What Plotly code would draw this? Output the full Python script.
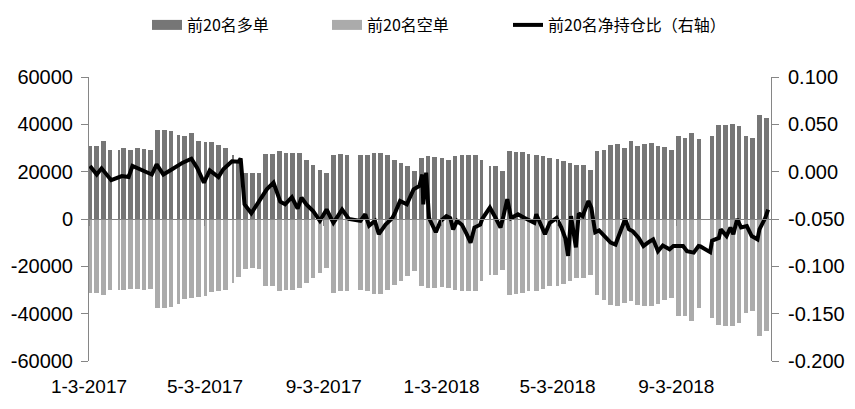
import pandas as pd
import plotly.graph_objects as go

# ---------------- data ----------------
week_start = pd.date_range("2017-01-02", periods=101, freq="7D")

holidays = [
    "2017-01-02", "2017-01-27", "2017-01-30", "2017-01-31", "2017-02-01", "2017-02-02",
    "2017-04-03", "2017-04-04", "2017-05-01", "2017-05-29", "2017-05-30",
    "2017-10-02", "2017-10-03", "2017-10-04", "2017-10-05", "2017-10-06",
    "2018-01-01", "2018-02-15", "2018-02-16", "2018-02-19", "2018-02-20", "2018-02-21",
    "2018-04-05", "2018-04-06", "2018-04-30", "2018-05-01", "2018-06-18", "2018-09-24",
    "2018-10-01", "2018-10-02", "2018-10-03", "2018-10-04", "2018-10-05",
]

long_pos = [
    31000, 31000, 33000, 29300, 29000, 30000, 29000, 30000, 29700, 29000,
    37700, 37700, 37000, 35600, 35000, 36300, 33000, 32500, 32500, 31400,
    30000, 27000, 24000, 19500, 19500, 19500, 27500, 27500, 28900, 27900,
    27900, 27900, 25000, 23000, 20800, 19400, 27200, 27500, 27200, None,
    26900, 26900, 27900, 27900, 27200, 25000, 23700, 22300, 20100, 25800,
    26500, 26000, 25600, 25100, 26500, 26900, 26900, 27200, 25100, 22300,
    22300, 20400, 28600, 28300, 28300, 27500, 26900, 26500, 25800, 25500,
    24400, 23700, 23000, 23000, 20800, 28600, 29300, 31400, 31700, 30000,
    32800, 31000, 31700, 32100, 30700, 30300, 29300, 34900, 34100, 36300,
    33800, None, 34900, 39900, 39900, 40100, 39200, 34900, 34200, 44100,
    42700,
]

short_pos = [
    -31300, -31300, -32000, -30200, -29900, -30000, -29600, -29500, -29900, -29500,
    -37600, -37600, -37000, -36000, -34000, -33400, -33000, -32500, -31000, -30600,
    -30000, -27000, -24500, -21000, -20500, -21000, -28500, -28500, -30600, -29900,
    -29900, -29200, -27000, -24900, -22800, -20700, -31300, -30600, -30600, None,
    -29900, -30600, -31700, -31700, -29900, -27700, -26300, -24200, -22100, -28500,
    -29200, -29000, -28800, -29200, -29900, -30600, -30600, -30600, -26300, -23500,
    -23500, -21400, -32000, -31700, -31300, -30600, -30400, -29400, -28500, -28500,
    -27500, -26300, -24900, -24900, -23500, -32000, -34100, -36200, -36900, -35500,
    -34800, -36200, -36900, -36900, -35900, -34100, -33400, -41100, -41100, -43200,
    -37600, None, -41800, -44600, -45400, -45400, -43900, -39700, -39000, -49600,
    -47500,
]

ratio_dates = [
    "2017-01-04", "2017-01-11", "2017-01-16", "2017-01-26", "2017-02-06", "2017-02-13",
    "2017-02-17", "2017-02-27", "2017-03-09", "2017-03-14", "2017-03-21", "2017-03-30",
    "2017-04-10", "2017-04-19", "2017-04-25", "2017-05-02", "2017-05-08", "2017-05-17",
    "2017-05-22", "2017-05-31", "2017-06-07", "2017-06-09", "2017-06-13", "2017-06-20",
    "2017-06-27", "2017-06-29", "2017-07-04", "2017-07-06", "2017-07-13", "2017-07-20",
    "2017-07-25", "2017-08-01", "2017-08-07", "2017-08-11", "2017-08-16", "2017-08-23",
    "2017-08-30", "2017-09-06", "2017-09-13", "2017-09-22", "2017-09-29", "2017-10-11",
    "2017-10-16", "2017-10-20", "2017-10-26", "2017-10-30", "2017-11-06", "2017-11-13",
    "2017-11-16", "2017-11-21", "2017-11-28", "2017-12-05", "2017-12-11", "2017-12-14",
    "2017-12-15", "2017-12-18", "2017-12-21", "2017-12-28", "2018-01-02", "2018-01-08",
    "2018-01-12", "2018-01-15", "2018-01-19", "2018-01-24", "2018-01-29", "2018-02-02",
    "2018-02-06", "2018-02-12", "2018-02-14", "2018-02-22", "2018-02-27", "2018-03-05",
    "2018-03-08", "2018-03-12", "2018-03-16", "2018-03-23", "2018-03-30", "2018-04-09",
    "2018-04-11", "2018-04-16", "2018-04-20", "2018-04-25", "2018-05-02", "2018-05-07",
    "2018-05-11", "2018-05-14", "2018-05-16", "2018-05-17", "2018-05-22", "2018-05-25",
    "2018-05-29", "2018-06-04", "2018-06-07", "2018-06-11", "2018-06-15", "2018-06-21",
    "2018-06-27", "2018-07-02", "2018-07-06", "2018-07-12", "2018-07-16", "2018-07-20",
    "2018-07-26", "2018-07-31", "2018-08-06", "2018-08-10", "2018-08-15", "2018-08-20",
    "2018-08-27", "2018-08-31", "2018-09-10", "2018-09-14", "2018-09-21", "2018-09-26",
    "2018-09-28", "2018-10-08", "2018-10-10", "2018-10-17", "2018-10-19", "2018-10-25",
    "2018-10-29", "2018-11-01", "2018-11-05", "2018-11-09", "2018-11-15", "2018-11-20",
    "2018-11-26", "2018-11-28", "2018-12-04", "2018-12-07",
]

net_ratio = [
    0.006, -0.003, 0.0035, -0.009, -0.0046, -0.0056,
    0.006, 0.0014, -0.003, 0.0077, -0.003, 0.0025,
    0.0095, 0.0137, 0.004, -0.0116, 0.0014, -0.0056,
    0.0025, 0.011, 0.0106, 0.014, -0.0345, -0.044,
    -0.033, -0.031, -0.022, -0.0187, -0.0116, -0.0317,
    -0.0345, -0.027, -0.039, -0.0275, -0.0345, -0.0415,
    -0.052, -0.040, -0.054, -0.040, -0.050, -0.052,
    -0.045, -0.057, -0.052, -0.066, -0.056, -0.049,
    -0.043, -0.031, -0.0345, -0.0187, -0.015, -0.003,
    -0.0345, -0.001, -0.049, -0.064, -0.052, -0.047,
    -0.049, -0.061, -0.052, -0.056, -0.066, -0.075,
    -0.059, -0.056, -0.050, -0.038, -0.047, -0.059,
    -0.047, -0.029, -0.049, -0.045, -0.049, -0.054,
    -0.045, -0.057, -0.066, -0.054, -0.049, -0.059,
    -0.070, -0.089, -0.058, -0.047, -0.080, -0.044,
    -0.047, -0.031, -0.038, -0.064, -0.062, -0.068,
    -0.075, -0.077, -0.066, -0.050, -0.061, -0.063,
    -0.070, -0.0785, -0.074, -0.0715, -0.084, -0.078,
    -0.082, -0.0785, -0.0785, -0.084, -0.0855, -0.0785,
    -0.079, -0.085, -0.073, -0.070, -0.061, -0.068,
    -0.059, -0.066, -0.050, -0.059, -0.0575, -0.068,
    -0.0715, -0.061, -0.049, -0.040,
]

left_ticks = [60000, 40000, 20000, 0, -20000, -40000, -60000]
right_ticks = [0.100, 0.050, 0.000, -0.050, -0.100, -0.150, -0.200]
x_tick_dates = ["2017-01-03", "2017-05-03", "2017-09-03", "2018-01-03", "2018-05-03", "2018-09-03"]
x_tick_labels = ["1-3-2017", "5-3-2017", "9-3-2017", "1-3-2018", "5-3-2018", "9-3-2018"]
x_range = ["2017-01-03", "2018-12-10"]

names = ["前20名多单", "前20名空单", "前20名净持仓比（右轴）"]

# ---------------- weekly blocks of trading days ----------------
trading = pd.bdate_range("2017-01-03", "2018-12-07")
trading = trading[~trading.isin(pd.to_datetime(holidays))]

centers, widths, L, S = [], [], [], []
for i, ws in enumerate(week_start):
    days = trading[(trading >= ws) & (trading < ws + pd.Timedelta(days=5))]
    if len(days) == 0 or long_pos[i] is None:
        continue
    first, last = days[0], days[-1]
    centers.append(first + (last - first) / 2)
    widths.append(((last - first).days + 1) * 86400000 * 0.97)
    L.append(long_pos[i])
    S.append(short_pos[i])

AX = "#868686"
LONG_C = "#767676"
SHORT_C = "#ababab"
TICKFONT = dict(family="Liberation Sans, Arial, sans-serif", size=19, color="#000000")
YTICKFONT = dict(family="Liberation Sans, Arial, sans-serif", size=20, color="#000000")
LEGFONT = dict(family="Noto Sans CJK SC", size=16, color="#000000")

fig = go.Figure()
fig.add_trace(go.Bar(x=centers, y=L, width=widths, name=names[0], showlegend=False,
                     marker=dict(color=LONG_C, line=dict(width=0))))
fig.add_trace(go.Bar(x=centers, y=S, width=widths, name=names[1], showlegend=False,
                     marker=dict(color=SHORT_C, line=dict(width=0))))
fig.add_trace(go.Scatter(x=pd.to_datetime(ratio_dates), y=net_ratio, name=names[2],
                         yaxis="y2", mode="lines",
                         line=dict(color="#000000", width=4), legend="legend3"))
# legend keys for the bar series (Excel-style wide swatches)
fig.add_trace(go.Scatter(x=[None], y=[None], name=names[0], mode="lines",
                         line=dict(color=LONG_C, width=10), legend="legend"))
fig.add_trace(go.Scatter(x=[None], y=[None], name=names[1], mode="lines",
                         line=dict(color=SHORT_C, width=10), legend="legend2"))
# carrier for the bottom date labels axis
fig.add_trace(go.Scatter(x=[centers[0]], y=[0], xaxis="x2", mode="markers",
                         marker=dict(opacity=0), showlegend=False, hoverinfo="skip"))

def leg(xpos):
    return dict(orientation="h", xref="container", yref="container",
                x=xpos, xanchor="left", y=1.0, yanchor="top",
                font=LEGFONT, bgcolor="rgba(0,0,0,0)")

fig.update_layout(
    width=855, height=409,
    margin=dict(l=81, r=92, t=69, b=56, autoexpand=False),
    paper_bgcolor="white", plot_bgcolor="white",
    barmode="overlay", bargap=0,
    showlegend=True,
    legend=leg(139 / 855),
    legend2=leg(319 / 855),
    legend3=leg(500 / 855),
    xaxis=dict(type="date", range=x_range, autorange=False, automargin=False,
               anchor="free", position=0.5,
               showline=True, linecolor=AX, linewidth=1,
               ticks="outside", ticklen=6, tickcolor=AX,
               tickvals=x_tick_dates, showticklabels=False,
               showgrid=False, zeroline=False),
    xaxis2=dict(type="date", overlaying="x", range=x_range, autorange=False,
                automargin=False, anchor="y", side="bottom",
                tickvals=x_tick_dates, ticktext=x_tick_labels, tickfont=TICKFONT,
                ticklabelstandoff=12,
                showline=False, ticks="", showgrid=False, zeroline=False),
    yaxis=dict(range=[-60000, 60000], tickvals=left_ticks, automargin=False,
               ticktext=[str(v) for v in left_ticks], tickfont=YTICKFONT,
               ticklabelstandoff=4,
               showline=True, linecolor=AX, ticks="outside", ticklen=7, tickcolor=AX,
               showgrid=False, zeroline=False),
    yaxis2=dict(range=[-0.2, 0.1], overlaying="y", side="right", tickvals=right_ticks,
                automargin=False,
                ticktext=[f"{v:.3f}" for v in right_ticks], tickfont=YTICKFONT,
                ticklabelstandoff=5,
                showline=True, linecolor=AX, ticks="outside", ticklen=7, tickcolor=AX,
                showgrid=False, zeroline=False),
)

fig.write_html("out.html")
